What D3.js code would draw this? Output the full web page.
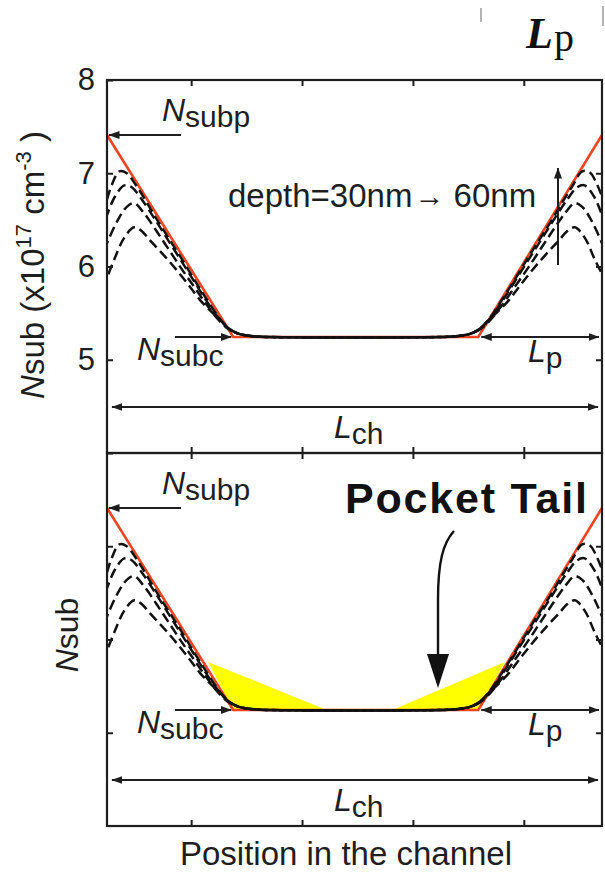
<!DOCTYPE html>
<html>
<head>
<meta charset="utf-8">
<script src="https://cdn.jsdelivr.net/npm/d3@7"></script>
<style>
  body { margin: 0; background: #fff; }
  svg { display: block; font-family: "Liberation Sans", Arial, sans-serif; }
</style>
</head>
<body>
<script>
// Substrate doping N_sub (x1e17 cm^-3) versus position in the channel (0 = source edge, 100 = drain edge)
const positionTicks = [17, 39.4, 61.8, 84.2];
const nsubTicks = [5, 6, 7, 8];
const depths = ["30nm", "40nm", "50nm", "60nm"];

// simulated profiles for increasing depth
const profile30 = [[0,6.72],[1,6.88],[2.5,7.02],[4,7.0],[6,6.86],[8,6.69],[10,6.51],[12.5,6.3],[15,6.09],[17.5,5.87],[20,5.66],[22.5,5.46],[24.5,5.34],[26.5,5.28],[29,5.255],[32,5.245],
                   [68,5.245],[71,5.255],[73.5,5.28],[75.5,5.34],[77.5,5.46],[80,5.66],[82.5,5.87],[85,6.09],[87.5,6.3],[90,6.51],[92,6.69],[94,6.86],[96,7.02],[97.5,7.01],[99,6.88],[100,6.75]];
const profile40 = [[0,6.55],[1.5,6.74],[3.5,6.87],[5,6.85],[7,6.72],[10,6.48],[12.5,6.27],[15,6.06],[17.5,5.85],[20,5.64],[22.5,5.45],[24.5,5.34],[26.5,5.28],[29,5.255],[32,5.245],
                   [68,5.245],[71,5.255],[73.5,5.28],[75.5,5.34],[77.5,5.45],[80,5.64],[82.5,5.85],[85,6.06],[87.5,6.27],[90,6.48],[93,6.72],[95,6.85],[96.5,6.87],[98.5,6.74],[100,6.55]];
const profile50 = [[0,6.25],[2,6.48],[4,6.64],[5.5,6.68],[7.5,6.57],[10,6.38],[12.5,6.18],[15,5.98],[17.5,5.79],[20,5.6],[22.5,5.43],[24.5,5.33],[26.5,5.28],[29,5.255],[32,5.245],
                   [68,5.245],[71,5.255],[73.5,5.28],[75.5,5.33],[77.5,5.43],[80,5.6],[82.5,5.79],[85,5.98],[87.5,6.18],[90,6.38],[92.5,6.57],[94.5,6.68],[96,6.64],[98,6.48],[100,6.25]];
const profile60 = [[0,5.88],[1.5,6.08],[3.5,6.31],[5.5,6.42],[7,6.38],[8.7,6.28],[11.5,6.12],[14.1,5.96],[16.5,5.8],[18.8,5.64],[20.8,5.53],[22.8,5.43],[24.5,5.34],[26.5,5.28],[29,5.255],[32,5.245],
                   [68,5.245],[71,5.255],[73.5,5.28],[75.5,5.34],[77.2,5.43],[79.2,5.53],[81.2,5.64],[83.5,5.8],[85.9,5.96],[88.5,6.12],[91.3,6.28],[93,6.38],[94.5,6.42],[96.5,6.31],[98.5,6.08],[100,5.92]];
const profiles = [profile30, profile40, profile50, profile60];

// piecewise-linear pocket model: N_subp at the edges, N_subc in the centre, pocket length L_p
const modelProfile = [[0,7.41],[25.5,5.244],[75,5.244],[100,7.41]];
const nSubp = 7.41;
const nSubc = 5.244;
const pocketEdgeLeft = 25.5;
const pocketEdgeRight = 75;

// pocket tail regions (lower panel)
const tailLeft = [[20.4,5.76],[25.5,5.244],[44.4,5.244]];
const tailRight = [[57.6,5.244],[75,5.244],[80.4,5.76]];

const W = 605, H = 872;
const ink = "#1e1e1e";
const red = "#ee4422";

const svg = d3.select("body").append("svg").attr("width", W).attr("height", H);

const defs = svg.append("defs");
defs.append("marker")
  .attr("id", "head")
  .attr("viewBox", "0 0 11 8")
  .attr("refX", 10.5).attr("refY", 4)
  .attr("markerUnits", "userSpaceOnUse")
  .attr("markerWidth", 11).attr("markerHeight", 8)
  .attr("orient", "auto-start-reverse")
  .append("path").attr("d", "M0,0L11,4L0,8Z").attr("fill", ink);

const x = d3.scaleLinear().domain([0, 100]).range([107, 602]);

const panels = [
  { top: 80, bottom: 453, id: "a", tail: false },
  { top: 453, bottom: 826, id: "b", tail: true }
];

function subLabel(g, px, py, main, sub, size, subSize, anchor) {
  const t = g.append("text").attr("x", px).attr("y", py)
    .attr("fill", ink).attr("font-size", size)
    .attr("text-anchor", anchor || "start");
  t.append("tspan").attr("font-style", "italic").text(main);
  t.append("tspan").attr("font-size", subSize).attr("dy", 6).text(sub);
  return t;
}

function arrow(g, x1, y1, x2, y2, both) {
  const l = g.append("line").attr("x1", x1).attr("y1", y1).attr("x2", x2).attr("y2", y2)
    .attr("stroke", ink).attr("stroke-width", 2).attr("marker-end", "url(#head)");
  if (both) l.attr("marker-start", "url(#head)");
}

panels.forEach(p => {
  const y = d3.scaleLinear().domain([4, 8]).range([p.bottom, p.top]);
  const g = svg.append("g");

  defs.append("clipPath").attr("id", "clip-" + p.id)
    .append("rect").attr("x", x(0)).attr("y", p.top).attr("width", x(100) - x(0)).attr("height", p.bottom - p.top);

  const plot = g.append("g").attr("clip-path", `url(#clip-${p.id})`);

  const area = d3.line().x(d => x(d[0])).y(d => y(d[1]));
  if (p.tail) {
    [tailLeft, tailRight].forEach(t => {
      plot.append("path").attr("d", area(t) + "Z").attr("fill", "#ffff00");
    });
  }

  // model line sits beneath the simulated profiles
  plot.append("path").attr("d", d3.line().x(d => x(d[0])).y(d => y(d[1]))(modelProfile))
    .attr("fill", "none").attr("stroke", red).attr("stroke-width", 2.6);

  const curve = d3.line().x(d => x(d[0])).y(d => y(d[1])).curve(d3.curveCatmullRom.alpha(0.5));
  profiles.forEach((prof, i) => {
    plot.append("path").attr("d", curve(prof))
      .attr("fill", "none").attr("stroke", "#111").attr("stroke-width", 2.5)
      .attr("stroke-dasharray", "10,5").attr("stroke-dashoffset", i * 3.7);
  });

  // frame
  g.append("rect").attr("x", x(0)).attr("y", p.top).attr("width", x(100) - x(0)).attr("height", p.bottom - p.top)
    .attr("fill", "none").attr("stroke", ink).attr("stroke-width", 2.2);

  // inward ticks on all four sides
  const axL = d3.axisLeft(y).tickValues(nsubTicks).tickSize(-6).tickSizeOuter(0).tickPadding(12)
    .tickFormat(p.id === "a" ? d3.format("d") : "");
  const gl = g.append("g").attr("transform", `translate(${x(0)},0)`).call(axL);
  const axR = d3.axisRight(y).tickValues([5, 6, 7]).tickSize(-6).tickSizeOuter(0).tickFormat("");
  g.append("g").attr("transform", `translate(${x(100)},0)`).call(axR);
  const axT = d3.axisTop(x).tickValues(positionTicks).tickSize(-6).tickSizeOuter(0).tickFormat("");
  g.append("g").attr("transform", `translate(0,${p.top})`).call(axT);
  const axB = d3.axisBottom(x).tickValues(positionTicks).tickSize(-6).tickSizeOuter(0).tickFormat("");
  g.append("g").attr("transform", `translate(0,${p.bottom})`).call(axB);
  g.selectAll(".domain").remove();
  g.selectAll(".tick line").attr("stroke", ink).attr("stroke-width", 2);
  gl.selectAll(".tick text").attr("font-size", 31).attr("fill", ink)
    .attr("font-family", "Liberation Sans, Arial, sans-serif");

  // N_subp marker
  arrow(g, 181, y(nSubp), x(0) + 2, y(nSubp));
  subLabel(g, 162, y(nSubp) - 14, "N", "subp", 32, 30);

  // N_subc marker
  arrow(g, 175, y(nSubc), x(pocketEdgeLeft) - 2, y(nSubc));
  subLabel(g, 137, y(nSubc) + 23, "N", "subc", 32, 30);

  // L_p span
  arrow(g, x(pocketEdgeRight) + 3, y(nSubc), x(100) - 3, y(nSubc), true);
  subLabel(g, 528, y(nSubc) + 25, "L", "p", 32, 30);

  // L_ch span
  const ych = p.top + 327;
  arrow(g, x(1), ych, x(99.2), ych, true);
  subLabel(g, 334, ych + 31, "L", "ch", 32, 30);
});

// upper panel annotations
const upper = svg.append("g");
upper.append("text").attr("x", 228).attr("y", 207).attr("font-size", 33).attr("fill", ink)
  .call(t => {
    t.append("tspan").text("depth=" + depths[0]);
    t.append("tspan").attr("font-size", 30).attr("dx", 2).attr("dy", -1).text("\u2192");
    t.append("tspan").attr("dx", 0).attr("dy", 1).text(" " + depths[depths.length - 1]);
  });
arrow(upper, 558, 265, 558, 168);

// y-axis titles
const yt = svg.append("text").attr("transform", "translate(44,265) rotate(-90)")
  .attr("text-anchor", "middle").attr("font-size", 33).attr("fill", ink);
yt.append("tspan").attr("font-style", "italic").text("N");
yt.append("tspan").text("sub (x10");
yt.append("tspan").attr("font-size", 22).attr("dy", -13).text("17");
yt.append("tspan").attr("dy", 13).text(" cm");
yt.append("tspan").attr("font-size", 22).attr("dy", -13).text("-3");
yt.append("tspan").attr("dy", 13).text(" )");

const yb = svg.append("text").attr("transform", "translate(78,635) rotate(-90)")
  .attr("text-anchor", "middle").attr("font-size", 32).attr("fill", ink);
yb.append("tspan").attr("font-style", "italic").text("N");
yb.append("tspan").text("sub");

// lower panel: pocket tail callout
const lower = svg.append("g");
lower.append("text").attr("x", 345).attr("y", 513).attr("font-size", 43).attr("font-weight", "bold")
  .attr("letter-spacing", 1.8).attr("fill", "#111").text("Pocket Tail");
lower.append("path").attr("d", "M454,531C443,543 438,562 438,600L438,660")
  .attr("fill", "none").attr("stroke", "#111").attr("stroke-width", 2.4);
lower.append("path").attr("d", "M427,654L449,654L438,688Z").attr("fill", "#111");

// x-axis title
svg.append("text").attr("x", 346).attr("y", 865).attr("text-anchor", "middle")
  .attr("font-size", 33).attr("fill", ink).text("Position in the channel");

// heading fragment above the chart
const head = svg.append("g");
head.append("text").attr("x", 526).attr("y", 48).attr("font-family", "Liberation Serif, Times New Roman, serif")
  .attr("fill", "#111").call(t => {
    t.append("tspan").attr("font-size", 44).attr("font-weight", "bold").attr("font-style", "italic").text("L");
    t.append("tspan").attr("font-size", 40).attr("dx", 1).attr("dy", 3).text("p");
  });
head.append("line").attr("x1", 481).attr("y1", 8).attr("x2", 481).attr("y2", 22).attr("stroke", "#999").attr("stroke-width", 1.5);
head.append("line").attr("x1", 603).attr("y1", 6).attr("x2", 603).attr("y2", 26).attr("stroke", "#999").attr("stroke-width", 1.5);
</script>
</body>
</html>
